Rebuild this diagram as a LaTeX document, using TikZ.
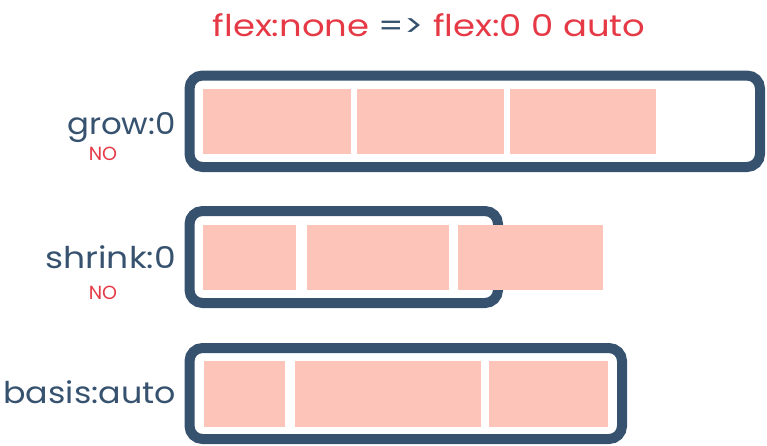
\documentclass[tikz,border=0pt]{standalone}
\usepackage{fontspec}
\usepackage{graphicx}
\setmainfont{Poppins}
\definecolor{navy}{RGB}{54,82,111}
\definecolor{pinkfill}{RGB}{253,196,185}
\definecolor{redtxt}{RGB}{230,57,70}
\newcommand{\wide}[2]{\scalebox{#1}[1]{#2}}
\tikzset{
  box/.style={draw=navy, line width=10pt, rounded corners=13pt, inner sep=0pt, fill=none},
  item/.style={fill=pinkfill, inner sep=0pt, draw=none},
  lbl/.style={text=navy, font=\fontsize{30}{34}\selectfont, anchor=base east, inner sep=0pt},
  nolbl/.style={text=redtxt, font=\fontsize{19}{22}\selectfont, anchor=base, inner sep=0pt},
}
\begin{document}
\begin{tikzpicture}[x=1pt,y=-1pt]
\useasboundingbox (0,0) rectangle (767,445);
% title
\node[anchor=base, inner sep=0pt, text=redtxt, font=\fontsize{30}{34}\selectfont] (title) at (429,36) {\wide{1.18}{flex:none \textcolor{navy}{=>} flex:0 0 auto}};
% row 1
\node[box, minimum width=570.5pt, minimum height=91.5pt] (b1) at (474.75,121.25) {};
\node[item, minimum width=148pt, minimum height=65pt] (r11) at (277,121.5) {};
\node[item, minimum width=147pt, minimum height=65pt] (r12) at (430.5,121.5) {};
\node[item, minimum width=146pt, minimum height=65pt] (r13) at (583,121.5) {};
\node[lbl] (l1) at (176,134) {\wide{1.08}{grow:0}};
\node[nolbl] (n1) at (103,160) {NO};
% row 2
\node[box, minimum width=308.5pt, minimum height=92pt] (b2) at (343.75,257) {};
\node[item, minimum width=93pt, minimum height=65pt] (r21) at (249.5,257.5) {};
\node[item, minimum width=142pt, minimum height=65pt] (r22) at (378,257.5) {};
\node[item, minimum width=145pt, minimum height=65pt] (r23) at (530.5,257.5) {};
\node[lbl] (l2) at (176,268) {\wide{1.15}{shrink:0}};
\node[nolbl] (n2) at (103,299) {NO};
% row 3
\node[box, minimum width=432.5pt, minimum height=91pt] (b3) at (405.75,393.5) {};
\node[item, minimum width=81pt, minimum height=66pt] (r31) at (244.5,394) {};
\node[item, minimum width=186pt, minimum height=66pt] (r32) at (388,394) {};
\node[item, minimum width=119pt, minimum height=66pt] (r33) at (548.5,394) {};
\node[lbl] (l3) at (176,403) {\wide{1.11}{basis:auto}};
\end{tikzpicture}
\end{document}
